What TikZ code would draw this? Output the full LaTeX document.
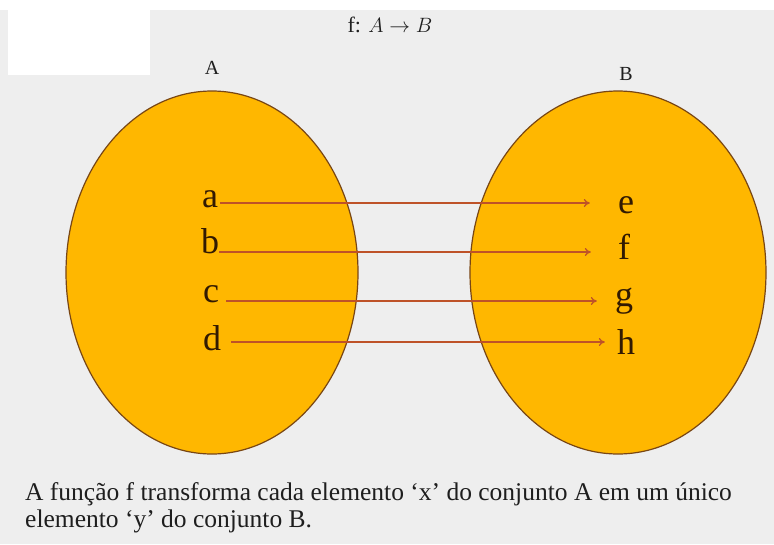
\documentclass[tikz,border=0pt]{standalone}
\usepackage{fontspec}
\setmainfont{Liberation Serif}
\usetikzlibrary{arrows.meta,calc}
\definecolor{setfill}{RGB}{255,183,0}
\definecolor{setedge}{RGB}{120,70,20}
\definecolor{mapcolor}{RGB}{190,82,40}
\definecolor{elemcolor}{RGB}{50,26,2}
\definecolor{bgcolor}{RGB}{238,238,238}
\definecolor{txtcolor}{RGB}{30,30,30}
\tikzset{
  setshape/.style={fill=setfill, draw=setedge, line width=1.2pt},
  elem/.style={elemcolor, font=\fontsize{36}{36}\selectfont, inner sep=0pt, anchor=base},
  setlabel/.style={txtcolor, font=\fontsize{20}{20}\selectfont, inner sep=0pt, anchor=base},
  captxt/.style={txtcolor, font=\fontsize{25.5}{27}\selectfont, inner sep=0pt, align=left},
  maparrow/.style={-{To[length=6pt,width=8pt]}, line width=1.3pt, mapcolor},
}
\begin{document}
\begin{tikzpicture}[x=1pt,y=-1pt]
  % page and backdrop
  \useasboundingbox (0,0) rectangle (774,544);
  \fill[bgcolor] (0,0) rectangle (774,544);
  \fill[white] (0,0) rectangle (774,10);
  \fill[white] (8,10) rectangle (150,75);
  % the two sets
  \draw[setshape] (212,272.5) ellipse [x radius=146pt, y radius=181.5pt];
  \draw[setshape] (618,272.5) ellipse [x radius=148pt, y radius=181.5pt];
  \node[setlabel, font=\fontsize{22}{22}\selectfont] (title) at (390,32) {f: $A \rightarrow B$};
  \node[setlabel] (lblA) at (212,74) {A};
  \node[setlabel] (lblB) at (626,80) {B};
  % elements of A and B
  \node[elem] (a) at (210,207) {a};
  \node[elem] (b) at (210,253) {b};
  \node[elem] (c) at (211,302) {c};
  \node[elem] (d) at (212,350) {d};
  \node[elem] (e) at (626,213) {e};
  \node[elem] (f) at (624,259) {f};
  \node[elem] (g) at (624,306) {g};
  \node[elem] (h) at (626,354) {h};
  % the mapping
  \foreach \s/\t/\lift/\lgap/\rgap in {a/e/4/2/28, b/f/1/0/27, c/g/1/7/18, d/h/8/10/12}
    \draw[maparrow] ($(\s.base east)+(\lgap pt,\lift pt)$)
      -- ($(\s.base east -| \t.base west)+(-\rgap pt,\lift pt)$);
  \node[captxt, anchor=north west] (caption) at (25,482)
    {A função f transforma cada elemento ‘x’ do conjunto A em um único\\elemento ‘y’ do conjunto B.};
\end{tikzpicture}
\end{document}
